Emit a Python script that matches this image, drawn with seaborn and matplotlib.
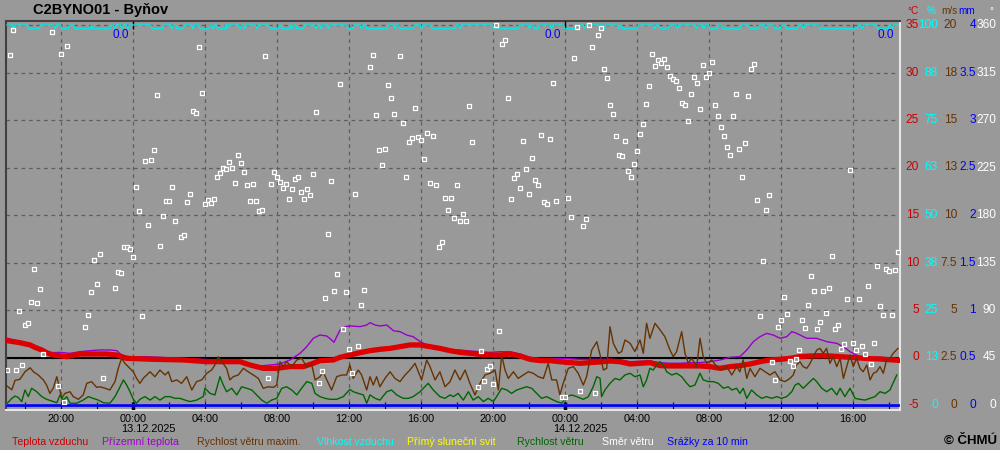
import pandas as pd
import numpy as np
import matplotlib
matplotlib.use("Agg")
import matplotlib.pyplot as plt
import matplotlib.dates as mdates
import matplotlib.transforms as mtransforms
import seaborn as sns

# --- data (minutes after 12.12.2025 17:00) ---
start = pd.Timestamp("2025-12-12 17:00")
end_min = 2970

temp_min = [1, 43, 77, 93, 116, 132, 154, 199, 243, 332,
            366, 399, 488, 588, 666, 777, 810, 854, 899, 943,
            988, 1021, 1043, 1088, 1110, 1143, 1177, 1210, 1243, 1277,
            1310, 1343, 1377, 1410, 1443, 1477, 1510, 1543, 1577, 1610,
            1643, 1677, 1710, 1743, 1777, 1810, 1843, 1877, 1910, 1943,
            1977, 2010, 2043, 2077, 2110, 2143, 2177, 2210, 2243, 2277,
            2310, 2343, 2377, 2410, 2443, 2477, 2510, 2543, 2577, 2610,
            2643, 2677, 2710, 2743, 2777, 2810, 2843, 2877, 2910, 2970]
temp_val = [1.77, 1.56, 1.32, 1.07, 0.79, 0.51, 0.26, 0.09, 0.37, 0.37,
            0.26, -0.09, -0.19, -0.26, -0.44, -0.44, -0.79, -1.14, -1.14, -0.96,
            -0.96, -0.61, -0.33, -0.26, 0.02, 0.26, 0.51, 0.72, 0.86, 0.96,
            1.14, 1.32, 1.32, 1.14, 0.96, 0.72, 0.54, 0.44, 0.33, 0.26,
            0.26, 0.37, 0.16, -0.19, -0.33, -0.33, -0.44, -0.54, -0.61, -0.54,
            -0.47, -0.37, -0.44, -0.68, -0.61, -0.54, -0.86, -0.89, -0.89, -0.89,
            -0.89, -0.96, -1.14, -0.96, -0.86, -0.68, -0.44, -0.26, -0.19, -0.09,
            0.09, 0.16, 0.19, 0.16, 0.09, 0.02, -0.05, -0.12, -0.16, -0.30]

ground_min = [1, 43, 88, 121, 143, 177, 210, 243, 277, 310,
              343, 366, 382, 421, 454, 510, 577, 643, 710, 777,
              810, 843, 877, 910, 943, 960, 977, 999, 1021, 1043,
              1066, 1082, 1090, 1099, 1110, 1127, 1143, 1177, 1199, 1210,
              1227, 1243, 1266, 1288, 1310, 1332, 1354, 1377, 1399, 1421,
              1443, 1477, 1510, 1543, 1577, 1610, 1643, 1677, 1710, 1743,
              1777, 1821, 1866, 1910, 1954, 1999, 2043, 2077, 2110, 2143,
              2177, 2210, 2243, 2277, 2310, 2343, 2377, 2410, 2443, 2466,
              2488, 2510, 2532, 2554, 2577, 2599, 2616, 2632, 2666, 2699,
              2732, 2766, 2788, 2810, 2843, 2877, 2910, 2970]
ground_val = [2.02, 1.67, 1.32, 0.86, 0.51, 0.54, 0.44, 0.61, 0.72, 0.79,
              0.79, 0.72, 0.26, -0.02, 0.09, 0.02, -0.09, -0.19, -0.26, -0.51,
              -0.79, -0.89, -0.79, -0.68, -0.26, 0.09, 0.44, 1.14, 2.02, 2.37,
              2.26, 1.84, 1.60, 2.19, 2.89, 3.25, 3.32, 3.25, 3.42, 3.67,
              3.42, 3.32, 3.42, 2.82, 2.72, 2.37, 2.19, 1.67, 1.32, 1.14,
              0.96, 0.79, 0.79, 0.68, 0.61, 0.54, 0.61, 0.61, 0.37, 0.02,
              -0.09, -0.09, -0.12, -0.19, -0.19, -0.19, -0.26, -0.44, -0.40, -0.37,
              -0.54, -0.61, -0.61, -0.54, -0.54, -0.44, -0.26, 0.02, 0.09, 0.79,
              1.67, 2.19, 2.54, 2.37, 2.02, 2.19, 2.72, 2.54, 2.02, 2.02,
              1.67, 1.49, 1.14, 0.61, 0.09, 0.02, 0.02, -0.09]

gust_min = [0, 16, 27, 43, 60, 77, 88, 104, 121, 132,
            143, 154, 166, 174, 182, 193, 210, 221, 238, 254,
            266, 282, 299, 310, 327, 343, 360, 371, 382, 393,
            404, 421, 432, 443, 454, 466, 477, 493, 510, 527,
            538, 549, 566, 582, 599, 616, 632, 649, 666, 682,
            693, 704, 716, 732, 743, 754, 771, 788, 804, 821,
            838, 854, 871, 888, 899, 910, 921, 932, 949, 966,
            982, 999, 1016, 1027,
            1043, 1054, 1066, 1082, 1099, 1116, 1132, 1143, 1154, 1171,
            1182, 1199, 1210, 1221, 1232, 1243, 1260, 1277, 1293, 1310,
            1327, 1343, 1360, 1371, 1382, 1399, 1410, 1427, 1443, 1460,
            1477, 1493, 1510, 1527, 1543, 1560, 1577, 1593, 1610, 1627,
            1638, 1649, 1660, 1671, 1688, 1704, 1721, 1738, 1754, 1771,
            1788, 1804, 1816, 1832, 1843, 1854, 1871, 1888, 1904, 1921,
            1932, 1949, 1966, 1977, 1988, 1999, 2010, 2021, 2038, 2049,
            2060, 2077, 2093,
            2110, 2121, 2132, 2143, 2160, 2177, 2193, 2210, 2221, 2232,
            2249, 2260, 2271, 2282, 2299, 2310, 2321, 2332, 2349, 2366,
            2382, 2399, 2416, 2432, 2443, 2454, 2466, 2477, 2493, 2510,
            2527, 2543, 2560, 2577, 2593, 2610, 2621, 2632, 2643, 2654,
            2666, 2677, 2688, 2699, 2710, 2721, 2732, 2743, 2754, 2766,
            2777, 2788, 2799, 2810, 2821, 2832, 2843, 2854, 2866, 2877,
            2888, 2899, 2910, 2921, 2932, 2943, 2954, 2970]
gust_val = [1.0, 0.8, 1.3, 1.35, 1.75, 1.96, 1.75, 1.58, 1.32, 1.05,
            0.61, 0.88, 1.49, 0.96, 0.35, 0.61, 0.70, 0.44, 0.30, 0.53,
            1.14, 1.23, 0.93, 0.96, 0.88, 0.79, 1.23, 1.93, 2.46, 2.19,
            2.02, 1.75, 1.40, 1.14, 1.40, 1.58, 1.75, 1.49, 1.84, 1.58,
            1.75, 1.23, 1.32, 1.14, 1.49, 0.79, 1.23, 1.32, 1.67, 1.84,
            2.11, 2.54, 2.28, 1.93, 1.32, 1.49, 1.58, 1.93, 1.75, 1.58,
            1.40, 0.88, 0.96, 0.93, 1.05, 2.28, 2.02, 2.28, 2.02, 2.37,
            2.46, 2.02, 2.11, 1.32,
            1.49, 1.75, 1.32, 0.79, 1.49, 1.58, 1.58, 2.11, 1.40, 1.84,
            1.58, 0.79, 1.49, 1.05, 1.49, 0.96, 1.40, 1.75, 1.40, 1.23,
            1.58, 1.84, 2.19, 1.75, 1.32, 2.37, 2.02, 1.32, 1.75, 0.96,
            1.23, 1.84, 1.32, 1.84, 1.14, 0.53, 1.14, 1.58, 1.67, 1.84,
            0.79, 2.63, 1.84, 1.40, 1.75, 1.40, 1.58, 1.75, 1.67, 1.49,
            1.40, 2.19, 1.32, 1.32, 0.53, 1.14, 1.93, 2.02, 1.67, 1.05,
            1.49, 2.89, 3.33, 2.63, 1.84, 1.93, 4.12, 3.25, 2.72, 2.81,
            3.42, 3.25, 2.81,
            3.42, 2.72, 4.30, 3.51, 4.30, 3.95, 3.60, 2.89, 2.54, 2.81,
            3.86, 2.72, 2.19, 2.46, 2.02, 3.51, 2.54, 2.19, 2.37, 2.02,
            1.84, 2.02, 1.58, 2.02, 1.75, 2.37, 1.40, 1.93, 1.49, 1.93,
            1.75, 1.58, 1.75, 1.32, 1.23, 1.40, 1.58, 2.11, 2.28, 2.02,
            1.93, 2.19, 2.54, 2.89, 2.98, 2.72, 2.98, 2.19, 2.54, 2.02,
            2.46, 1.40, 2.02, 2.63, 2.02, 2.46, 1.93, 1.75, 2.11, 1.32,
            1.67, 1.75, 2.02, 1.67, 2.37, 2.46, 2.72, 2.98]

wind_min = [1, 16, 27, 38, 49, 60, 71, 82, 99, 116,
            132, 149, 166, 177, 188, 199, 210, 232, 254, 271,
            288, 304, 321, 343, 360, 377, 388, 399, 410, 421,
            432, 443, 460, 477, 493, 510, 527, 543, 560, 577,
            593, 610, 632, 654, 660, 677, 693, 710, 721, 732,
            749, 766, 782, 799, 816, 832, 849, 866, 882, 899,
            916, 932, 949, 966, 982, 999, 1016, 1027,
            1043, 1060, 1077, 1099, 1121, 1143, 1154, 1171, 1188, 1199,
            1210, 1227, 1243, 1266, 1282, 1299, 1321, 1338, 1354, 1377,
            1393, 1404, 1421, 1443, 1460, 1477, 1488, 1504, 1521, 1538,
            1554, 1571, 1588, 1604, 1621, 1632, 1649, 1666, 1682, 1699,
            1716, 1732, 1749, 1766, 1782, 1799, 1816, 1832, 1849, 1866,
            1882, 1899, 1921, 1938, 1954, 1966, 1977, 1982, 1993, 2010,
            2027, 2043, 2060, 2077, 2093,
            2110, 2121, 2132, 2143, 2154, 2166, 2177, 2188, 2199, 2216,
            2232, 2249, 2266, 2277, 2293, 2310, 2321, 2338, 2354, 2371,
            2388, 2404, 2416, 2432, 2443, 2454, 2466, 2482, 2499, 2516,
            2532, 2549, 2566, 2582, 2599, 2616, 2627, 2638, 2654, 2671,
            2688, 2699, 2716, 2732, 2749, 2766, 2777, 2793, 2810, 2827,
            2843, 2860, 2877, 2893, 2910, 2927, 2943, 2966]
wind_val = [0.09, 0.35, 0.47, 0.39, 0.18, 0.79, 0.44, 0.88, 0.70, 0.44,
            0.30, 0.21, 0.12, 0.53, 0.26, 0.44, 0.09, 0.09, 0.26, 0.44,
            0.35, 0.26, 0.12, 0.09, 0.44, 0.96, 1.32, 1.05, 0.70, 0.30,
            0.09, 0.30, 0.44, 0.26, 0.44, 0.26, 0.44, 0.44, 0.35, 0.35,
            0.26, 0.18, 0.26, 0.44, 0.88, 0.61, 0.53, 1.49, 1.05, 0.70,
            0.88, 0.53, 0.96, 0.88, 0.79, 0.53, 0.26, 0.09, 0.26, 0.35,
            0.88, 0.96, 0.79, 0.53, 0.88, 1.23, 1.14, 0.61,
            0.44, 0.35, 0.30, 0.30, 0.44, 0.82, 0.70, 0.61, 0.53, 0.09,
            0.53, 0.35, 0.26, 0.70, 0.79, 0.53, 0.35, 0.35, 0.44, 0.70,
            0.96, 1.14, 0.79, 0.44, 0.35, 0.53, 0.44, 0.61, 0.26, 0.70,
            0.26, 0.44, 0.18, 0.35, 0.18, 0.44, 0.88, 0.79, 0.61, 0.79,
            0.88, 0.96, 0.88, 0.61, 0.35, 0.44, 0.30, 0.18, 0.09, 0.44,
            0.53, 0.44, 0.30, 0.44, 0.96, 1.49, 1.40, 0.44, 0.79, 1.14,
            1.40, 1.32, 1.58, 1.67, 1.49,
            1.58, 0.96, 1.32, 1.93, 1.84, 2.11, 2.28, 2.11, 1.75, 1.58,
            1.67, 1.49, 1.14, 0.96, 1.05, 1.67, 1.32, 1.23, 1.23, 1.14,
            0.88, 0.96, 0.79, 0.88, 0.61, 0.88, 0.35, 0.79, 0.53, 0.35,
            0.44, 0.35, 0.44, 0.35, 0.44, 0.70, 1.05, 1.14, 0.88, 1.14,
            1.40, 1.23, 0.88, 0.70, 0.88, 0.53, 0.88, 0.44, 0.88, 0.35,
            0.30, 0.26, 0.35, 0.44, 0.70, 0.61, 0.79, 1.58]

# wind direction, one value per 10 min slot (None = no reading shown)
wind_dir = [33, 332, 355, 33, 89, 38, 76, 78, 98, 129,
            97, 110, 48, None, None, 353, None, 18, 333, 3,
            340, None, None, None, None, None, 74, 85, 107, 137,
            115, 143, 26, None, None, None, 111, 126, 125, 150,
            150, 148, 140, 207, 184, 84, 231, 171, 232, 242,
            294, 151, 179, 193, 193, 207, 174, 93, 159, 161,
            192, 200, 279, 277, 339, 296, 190, 194, 191, 195,
            216, 220, 225, 224, 230, 225, 210, 237, 229, 221,
            208, 193, 209, 193, 184, 185, 331, 26, 209, 221,
            216, 211, 206, 209, 195, 205, 214, 216, 202, 195,
            205, 199, 219, 278, 21, 32, 101, 162, 212, 108,
            124, 304, 72, 107, 53, 30, 200, 56, 95, 109,
            None, 320, 332, 275, 242, 227, 243, 303, 291, 276,
            None, 331, 267, 216, 249, 253, 281, 254, 251, 233,
            258, 210, 255, 208, 150, 154, 196, 185, 196, 177,
            208, 174, 181, 174, 283, 249, None, 17, 51, 23,
            34, 37, 20, 360, 70, 342, 346, 291, 195, 215,
            219, 206, 250, 224, 200, 234, 213, 208, 256, 192,
            190, 252, 305, 193, None, 8, 8, 196, 178, 329,
            358, 13, 170, 176, 360, 339, 11, 351, 357, 318,
            310, 284, 276, 255, 237, 236, 250, 222, 216, 228,
            241, 257, 266, 285, 302, 333, 321, 327, 324, 328,
            320, 312, 309, 307, 300, 286, 284, 269, 295, 311,
            305, 280, 322, 311, 315, 325, 284, 274, 263, 255,
            244, 237, 274, 295, 243, 216, 248, 293, 318, 323,
            194, 84, 136, 185, 199, 41, 24, 74, 81, 102,
            86, 42, 37, 44, 52, 81, 73, 95, 122, 108,
            72, 79, 108, 87, 111, 141, 72, 76, 53, 58,
            100, 223, 59, 52, 100, 56, 48, 113, 39, 59,
            132, 94, 85, 129, 127, 85, 128, 145]

# humidity sits at 100 % with short drops to 99 % (minutes, start/end of drop)
hum_dip_start = [22, 73, 160, 183, 227, 287, 360, 383, 403, 483,
                 550, 567, 620, 643, 687, 703, 733, 777, 793, 833,
                 877, 917, 950, 967, 1030, 1047, 1072, 1137, 1182, 1200,
                 1293, 1310, 1382, 1417, 1510, 1622, 1637, 1742, 1760, 1815,
                 1860, 1903, 1925, 1990, 2040, 2053, 2160, 2177, 2235, 2298,
                 2322, 2343, 2387, 2477, 2530, 2560, 2600, 2655, 2710, 2850,
                 2903, 2950]
hum_dip_end = [22, 107, 160, 203, 277, 343, 360, 383, 403, 517,
               550, 587, 620, 673, 687, 727, 733, 777, 793, 833,
               903, 943, 950, 987, 1030, 1047, 1072, 1153, 1182, 1267,
               1293, 1353, 1382, 1493, 1510, 1622, 1703, 1742, 1770, 1815,
               1893, 1903, 1925, 1990, 2040, 2100, 2160, 2203, 2235, 2298,
               2322, 2367, 2443, 2503, 2530, 2577, 2633, 2655, 2833, 2850,
               2937, 2950]

prec_min = [0, 2970]
prec_mm = [0.0, 0.0]
sun_min = [0, 2970]
sun_val = [0.0, 0.0]

day_end = ["2025-12-13 00:00", "2025-12-14 00:00", "2025-12-14 18:30"]
day_total = [0.0, 0.0, 0.0]

BG = "#999999"


def frame(minutes, values):
    return pd.DataFrame({"time": start + pd.to_timedelta(minutes, unit="min"),
                         "value": values})


hum_t, hum_v = [0], [100]
for s, e in zip(hum_dip_start, hum_dip_end):
    hum_t += [s - 5, s, e, e + 5]
    hum_v += [100, 99, 99, 100]
hum_t.append(end_min)
hum_v.append(100)

df_temp = frame(temp_min, temp_val)
df_ground = frame(ground_min, ground_val)
df_gust = frame(gust_min, gust_val)
df_wind = frame(wind_min, wind_val)
df_hum = frame(hum_t, hum_v)
df_prec = frame(prec_min, prec_mm)
df_sun = frame(sun_min, sun_val)
df_dir = frame([10 * i for i in range(len(wind_dir))],
               [np.nan if v is None else v for v in wind_dir]).dropna()

plt.rcParams["font.family"] = ["Liberation Sans", "DejaVu Sans"]

fig = plt.figure(figsize=(10, 4.5), dpi=100, facecolor=BG)
ax = fig.add_axes([0.006, 1 - 410 / 450, 0.894, 389 / 450])
ax.set_facecolor(BG)

# temperature axis: 9.5 px per degree, -5 at y=405, 35 at y=25
t_lo, t_hi = -5 - 5 / 9.5, 35 + 4 / 9.5
ax_h = ax.twinx()
ax_w = ax.twinx()
ax_p = ax.twinx()
ax_d = ax.twinx()
ax.set_ylim(t_lo, t_hi)
ax_h.set_ylim((t_lo + 5) * 2.5, (t_hi + 5) * 2.5)
ax_w.set_ylim((t_lo + 5) / 2, (t_hi + 5) / 2)
ax_p.set_ylim((t_lo + 5) / 10, (t_hi + 5) / 10)
ax_d.set_ylim((t_lo + 5) * 9, (t_hi + 5) * 9)

ax.axhline(0, color="black", lw=1.5, zorder=1.5)

sns.lineplot(data=df_hum, x="time", y="value", ax=ax_h, color="#00e8e8", lw=1.0)
sns.lineplot(data=df_sun, x="time", y="value", ax=ax_p, color="#ffff00", lw=1.5)
sns.lineplot(data=df_prec, x="time", y="value", ax=ax_p, color="#0000ff", lw=2.0)
sns.lineplot(data=df_ground, x="time", y="value", ax=ax, color="#9900cc", lw=1.0, zorder=3)
sns.lineplot(data=df_temp, x="time", y="value", ax=ax, color="#dd0000", lw=3.8, zorder=4)
sns.lineplot(data=df_gust, x="time", y="value", ax=ax_w, color="#663300", lw=1.0)
sns.lineplot(data=df_wind, x="time", y="value", ax=ax_w, color="#006600", lw=1.0)
sns.scatterplot(data=df_dir, x="time", y="value", ax=ax_d, marker="s", s=9,
                color=BG, edgecolor="white", linewidth=0.9, zorder=5)

x0 = start - pd.Timedelta(minutes=3.3)
x1 = start + pd.Timedelta(minutes=2976.7)
for a in (ax, ax_h, ax_w, ax_p, ax_d):
    a.set_xlim(x0, x1)
    a.set_xlabel("")
    a.set_ylabel("")
for a in (ax_h, ax_w, ax_p, ax_d):
    a.tick_params(right=False, labelright=False)
    for sp in a.spines.values():
        sp.set_visible(False)

ax.set_yticks(range(-5, 36, 5))
ax.tick_params(axis="y", length=0, labelleft=False)
ax.xaxis.set_major_locator(mdates.HourLocator(byhour=range(0, 24, 4)))
ax.xaxis.set_minor_locator(mdates.HourLocator(byhour=range(0, 24, 2)))
ax.xaxis.set_major_formatter(mdates.DateFormatter("%H:%M"))
ax.tick_params(axis="x", which="both", direction="in", length=6, width=0.8,
               color="black", pad=3, labelsize=7.8)
ax.grid(True, which="major", color="#5e5e5e", lw=0.9, ls=(0, (3, 3)))
ax.set_axisbelow(True)

for side in ("left", "top"):
    ax.spines[side].set_color("#404040")
    ax.spines[side].set_linewidth(1.5)
for side in ("right", "bottom"):
    ax.spines[side].set_color("#e6e6e6")
    ax.spines[side].set_linewidth(1.5)

# midnight markers and date labels
midnights = [pd.Timestamp("2025-12-13"), pd.Timestamp("2025-12-14")]
mx = [mdates.date2num(m) for m in midnights]
ax.vlines(mx, 0, 0.02, transform=ax.get_xaxis_transform(), colors="black", lw=2.5, zorder=6)
ax.vlines(mx, 0.98, 1, transform=ax.get_xaxis_transform(), colors="black", lw=1, zorder=6)
for m, v in zip(midnights, mx):
    ax.annotate(m.strftime("%d.%m.%Y"), xy=(v, 0), xycoords=ax.get_xaxis_transform(),
                xytext=(-12, -19), textcoords="offset pixels", ha="left", va="center",
                fontsize=7.8, color="black")

# daily precipitation totals
for d, tot in zip(day_end, day_total):
    ax_p.annotate(f"{tot:.1f}", xy=(mdates.date2num(pd.Timestamp(d)), 1),
                  xycoords=ax_p.get_xaxis_transform(), xytext=(-4, -14),
                  textcoords="offset pixels", ha="right", va="center",
                  fontsize=8.5, color="#0000ff")

# right-hand scales
t_ticks = list(range(35, -6, -5))
columns = [
    (ax, t_ticks, [str(v) for v in t_ticks], "#cc0000", 919, "°C", 919),
    (ax_h, [100, 87.5, 75, 62.5, 50, 37.5, 25, 12.5, 0],
     ["100", "88", "75", "63", "50", "38", "25", "13", "0"], "#00ffff", 938, "%", 936),
    (ax_w, [20, 17.5, 15, 12.5, 10, 7.5, 5, 2.5, 0],
     ["20", "18", "15", "13", "10", "7.5", "5", "2.5", "0"], "#663300", 957, "m/s", 957),
    (ax_p, [4, 3.5, 3, 2.5, 2, 1.5, 1, 0.5, 0],
     ["4", "3.5", "3", "2.5", "2", "1.5", "1", "0.5", "0"], "#0000ff", 976, "mm", 975),
    (ax_d, [360, 315, 270, 225, 180, 135, 90, 45, 0],
     ["360", "315", "270", "225", "180", "135", "90", "45", "0"], "white", 996, "°", 993),
]
for a, ticks, labels, col, xpx, head, hx in columns:
    tr = mtransforms.blended_transform_factory(fig.transFigure, a.transData)
    for t, lab in zip(ticks, labels):
        fig.text(xpx / 1000, t, lab, transform=tr, ha="right", va="center",
                 fontsize=8.6, color=col)
    fig.text(hx / 1000, 1 - 11 / 450, head, ha="right", va="center",
             fontsize=7.2, color=col)

fig.text(0.033, 1 - 10 / 450, "C2BYNO01 - Byňov", fontsize=10.5,
         fontweight="bold", ha="left", va="center")

legend = [("Teplota vzduchu", "#cc0000", 12),
          ("Přízemní teplota", "#a000d0", 102),
          ("Rychlost větru maxim.", "#663300", 197),
          ("Vlhkost vzduchu", "#00ffff", 317),
          ("Přímý sluneční svit", "#ffff00", 407),
          ("Rychlost větru", "#006600", 517),
          ("Směr větru", "white", 602),
          ("Srážky za 10 min", "#0000ff", 667)]
for name, col, xpx in legend:
    fig.text(xpx / 1000, 1 - 442 / 450, name, color=col, fontsize=7.6,
             ha="left", va="center")
fig.text(0.997, 1 - 441 / 450, "© ČHMÚ", fontsize=9.5, fontweight="bold",
         ha="right", va="center")

fig.savefig("out.png", dpi=100, facecolor=BG)
